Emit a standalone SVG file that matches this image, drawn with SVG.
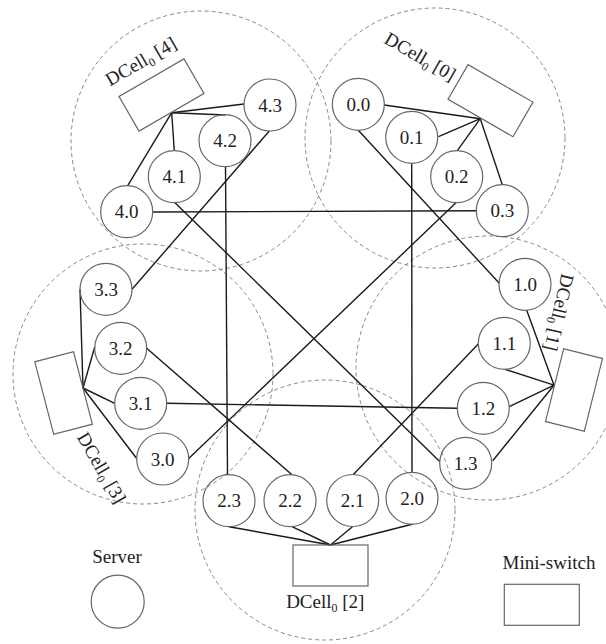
<svg xmlns="http://www.w3.org/2000/svg" width="606" height="644" viewBox="0 0 606 644">
<style>
.cell{fill:none;stroke:#888;stroke-width:1;stroke-dasharray:4 3}
.srv{fill:none;stroke:#666;stroke-width:1.2}
.sw{fill:none;stroke:#666;stroke-width:1.2}
.lbl{font-family:"Liberation Serif","Times New Roman",serif;font-size:19px;fill:#222;text-anchor:middle}
.sub{font-size:12px}
#links line{stroke:#1a1a1a;stroke-width:1.4}
</style>
<rect width="606" height="644" fill="#fff"/>

<g id="cells">
<circle id="cell-4" class="cell" cx="201" cy="141" r="130"/>
<circle id="cell-0" class="cell" cx="435" cy="138" r="130"/>
<circle id="cell-1" class="cell" cx="488" cy="368" r="132"/>
<circle id="cell-2" class="cell" cx="325" cy="510" r="130"/>
<circle id="cell-3" class="cell" cx="143" cy="374" r="130"/>
</g>

<g id="links">
<!-- intra cell 4 -->
<line x1="171.7" y1="112.7" x2="244" y2="104"/>
<line x1="171.7" y1="112.7" x2="225.5" y2="115"/>
<line x1="171.7" y1="112.7" x2="174.3" y2="150.7"/>
<line x1="171.7" y1="112.7" x2="127.7" y2="185.7"/>
<!-- intra cell 0 -->
<line x1="480.3" y1="118.7" x2="384.3" y2="105"/>
<line x1="480.3" y1="118.7" x2="438.5" y2="136.7"/>
<line x1="480.3" y1="118.7" x2="457.3" y2="150.7"/>
<line x1="480.3" y1="118.7" x2="502.3" y2="184.7"/>
<!-- intra cell 1 -->
<line x1="554" y1="385.2" x2="526.7" y2="310.2"/>
<line x1="554" y1="385.2" x2="505" y2="369.3"/>
<line x1="554" y1="385.2" x2="509.3" y2="406.7"/>
<line x1="554" y1="385.2" x2="492.7" y2="460.7"/>
<!-- intra cell 2 -->
<line x1="330.5" y1="545" x2="229" y2="526.7"/>
<line x1="330.5" y1="545" x2="292" y2="526.7"/>
<line x1="330.5" y1="545" x2="352.7" y2="526.5"/>
<line x1="330.5" y1="545" x2="412" y2="524.3"/>
<!-- intra cell 3 -->
<line x1="83" y1="388" x2="80" y2="289.3"/>
<line x1="83" y1="388" x2="94.7" y2="347"/>
<line x1="83" y1="388" x2="114.7" y2="403.3"/>
<line x1="83" y1="388" x2="136.7" y2="458.5"/>
<!-- inter-cell level-1 links -->
<line x1="358.3" y1="130.3" x2="499.3" y2="283.3"/>
<line x1="411.7" y1="163.3" x2="412" y2="472.3"/>
<line x1="455.7" y1="203" x2="188.7" y2="458.5"/>
<line x1="152.7" y1="212" x2="476.3" y2="210.7"/>
<line x1="478.3" y1="344" x2="353.3" y2="474.5"/>
<line x1="166.7" y1="403.3" x2="457.3" y2="408.3"/>
<line x1="175" y1="202.7" x2="439.7" y2="461.5"/>
<line x1="146.7" y1="348.3" x2="292" y2="474.8"/>
<line x1="225.5" y1="166.7" x2="227.5" y2="474.7"/>
<line x1="132" y1="289.3" x2="269.3" y2="131"/>
</g>

<g id="switch-4"><rect class="sw" x="-37.5" y="-20" width="75" height="40" transform="translate(161.5,95) rotate(-30)"/></g>
<g id="switch-0"><rect class="sw" x="-37.5" y="-20" width="75" height="40" transform="translate(490.5,100.7) rotate(30)"/></g>
<g id="switch-1"><rect class="sw" x="-20" y="-37.5" width="40" height="75" transform="translate(574,390) rotate(14)"/></g>
<g id="switch-2"><rect class="sw" x="293" y="545" width="75" height="41"/></g>
<g id="switch-3"><rect class="sw" x="-20" y="-37.5" width="40" height="75" transform="translate(63.6,393) rotate(-14.6)"/></g>

<g id="label-cell-4"><text class="lbl" transform="translate(144,67) rotate(-30)">DCell<tspan class="sub" dy="4">0</tspan><tspan dy="-4"> [4]</tspan></text></g>
<g id="label-cell-0"><text class="lbl" transform="translate(417,62) rotate(30)">DCell<tspan class="sub" dy="4">0</tspan><tspan dy="-4"> [0]</tspan></text></g>
<g id="label-cell-1"><text class="lbl" transform="translate(553,311) rotate(103)">DCell<tspan class="sub" dy="4">0</tspan><tspan dy="-4"> [1]</tspan></text></g>
<g id="label-cell-2"><text class="lbl" x="325.3" y="608.3">DCell<tspan class="sub" dy="4">0</tspan><tspan dy="-4"> [2]</tspan></text></g>
<g id="label-cell-3"><text class="lbl" transform="translate(96,471) rotate(60)">DCell<tspan class="sub" dy="4">0</tspan><tspan dy="-4"> [3]</tspan></text></g>

<g id="server-4-3"><circle class="srv" cx="270" cy="105" r="26"/><text class="lbl" x="270" y="111.5">4.3</text></g>
<g id="server-4-2"><circle class="srv" cx="225" cy="140.7" r="26"/><text class="lbl" x="225" y="147.2">4.2</text></g>
<g id="server-4-1"><circle class="srv" cx="174.3" cy="176.7" r="26"/><text class="lbl" x="174.3" y="183.2">4.1</text></g>
<g id="server-4-0"><circle class="srv" cx="126.7" cy="211.7" r="26"/><text class="lbl" x="126.7" y="218.2">4.0</text></g>

<g id="server-0-0"><circle class="srv" cx="358.3" cy="104.3" r="26"/><text class="lbl" x="358.3" y="110.8">0.0</text></g>
<g id="server-0-1"><circle class="srv" cx="411.7" cy="137.3" r="26"/><text class="lbl" x="411.7" y="143.8">0.1</text></g>
<g id="server-0-2"><circle class="srv" cx="456.7" cy="176.7" r="26"/><text class="lbl" x="456.7" y="183.2">0.2</text></g>
<g id="server-0-3"><circle class="srv" cx="502.3" cy="210.7" r="26"/><text class="lbl" x="502.3" y="217.2">0.3</text></g>

<g id="server-1-0"><circle class="srv" cx="525" cy="284.3" r="26"/><text class="lbl" x="525" y="290.8">1.0</text></g>
<g id="server-1-1"><circle class="srv" cx="504.3" cy="343.3" r="26"/><text class="lbl" x="504.3" y="349.8">1.1</text></g>
<g id="server-1-2"><circle class="srv" cx="483.3" cy="408.3" r="26"/><text class="lbl" x="483.3" y="414.8">1.2</text></g>
<g id="server-1-3"><circle class="srv" cx="465.7" cy="463.3" r="26"/><text class="lbl" x="465.7" y="469.8">1.3</text></g>

<g id="server-2-0"><circle class="srv" cx="412" cy="498.3" r="26"/><text class="lbl" x="412" y="504.8">2.0</text></g>
<g id="server-2-1"><circle class="srv" cx="352.7" cy="500.5" r="26"/><text class="lbl" x="352.7" y="507">2.1</text></g>
<g id="server-2-2"><circle class="srv" cx="290" cy="500.7" r="26"/><text class="lbl" x="290" y="507.2">2.2</text></g>
<g id="server-2-3"><circle class="srv" cx="229" cy="500.7" r="26"/><text class="lbl" x="229" y="507.2">2.3</text></g>

<g id="server-3-3"><circle class="srv" cx="106" cy="289.3" r="26"/><text class="lbl" x="106" y="295.8">3.3</text></g>
<g id="server-3-2"><circle class="srv" cx="120.7" cy="348.3" r="26"/><text class="lbl" x="120.7" y="354.8">3.2</text></g>
<g id="server-3-1"><circle class="srv" cx="140.7" cy="403.3" r="26"/><text class="lbl" x="140.7" y="409.8">3.1</text></g>
<g id="server-3-0"><circle class="srv" cx="162.7" cy="459" r="26"/><text class="lbl" x="162.7" y="465.5">3.0</text></g>

<g id="legend-server"><text class="lbl" x="117" y="562.7">Server</text><circle class="srv" cx="117.7" cy="601.7" r="26.5"/></g>
<g id="legend-switch"><text class="lbl" x="549" y="569.3">Mini-switch</text><rect class="sw" x="504.3" y="584.3" width="75" height="41"/></g>
</svg>
